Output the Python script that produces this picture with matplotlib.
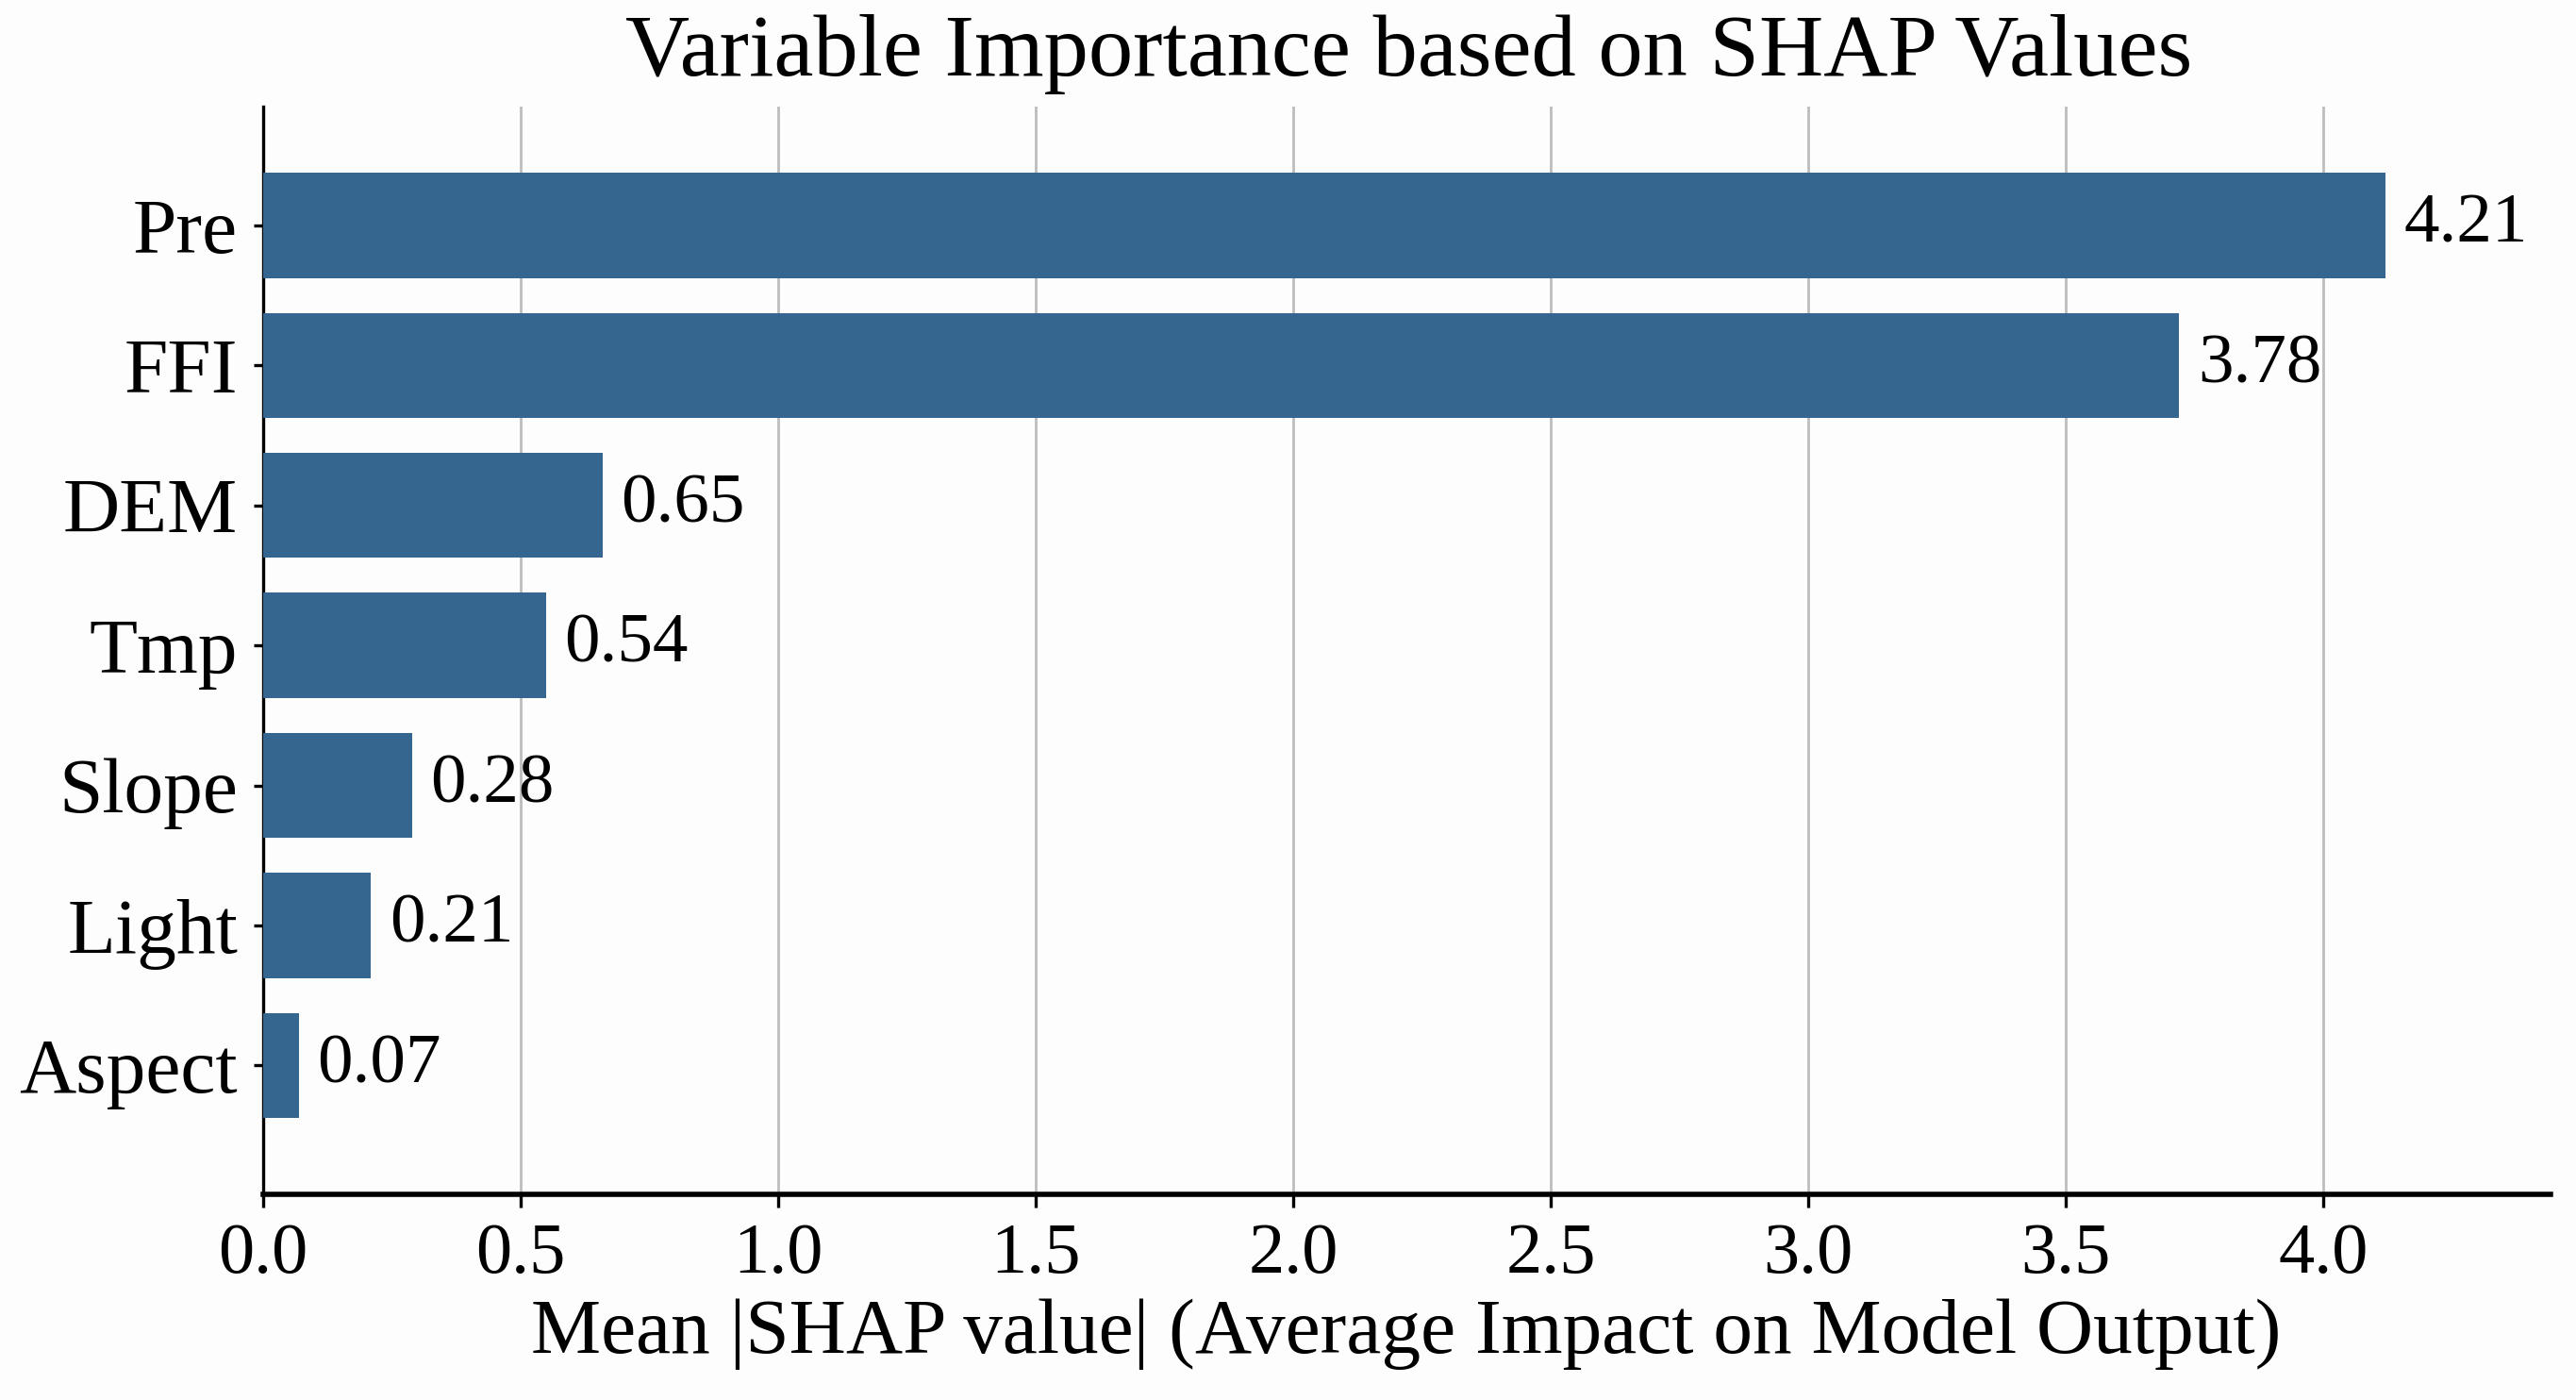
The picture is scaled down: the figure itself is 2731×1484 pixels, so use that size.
import matplotlib.pyplot as plt

# features, top to bottom as shown
features = ["Pre", "FFI", "DEM", "Tmp", "Slope", "Light", "Aspect"]
bar_values = [4.12, 3.72, 0.66, 0.55, 0.29, 0.21, 0.07]   # lengths
value_labels = ["4.21", "3.78", "0.65", "0.54", "0.28", "0.21", "0.07"]
xticks = [0.0, 0.5, 1.0, 1.5, 2.0, 2.5, 3.0, 3.5, 4.0]

plt.rcParams['font.family'] = ['Liberation Serif', 'DejaVu Serif']

fig = plt.figure(figsize=(13.655, 7.42), dpi=200)
fig.patch.set_facecolor("#fdfdfd")
ax = fig.add_axes([0.102, 0.147, 0.888, 0.777])
ax.set_facecolor("#fdfdfd")

# bottom bar goes at y=0
ypos = list(range(len(features)))[::-1]
ax.barh(ypos, bar_values, height=0.75, color="#34668f", zorder=3)

for y, v, lab in zip(ypos, bar_values, value_labels):
    ax.annotate(lab, (v, y), xytext=(7, 0), textcoords="offset points",
                ha="left", va="center", fontsize=27)

ax.set_yticks(ypos)
ax.set_yticklabels(features, fontsize=30)
ax.set_xticks(xticks)
ax.set_xticklabels([f"{t:.1f}" for t in xticks], fontsize=27.5)
ax.set_xlim(0, 4.44)
ax.set_ylim(-0.92, 6.85)

ax.grid(axis="x", color="#bdbdbd", linewidth=1.0, zorder=0)
ax.spines["top"].set_visible(False)
ax.spines["right"].set_visible(False)
ax.spines["left"].set_linewidth(1.2)
ax.spines["bottom"].set_linewidth(2.0)
ax.tick_params(axis="x", length=5, width=1.2, pad=6)
ax.tick_params(axis="y", length=3.5, width=1.2, pad=6)

ax.set_xlabel("Mean |SHAP value| (Average Impact on Model Output)", fontsize=30, labelpad=4)
fig.suptitle("Variable Importance based on SHAP Values", fontsize=34, y=0.99, x=0.547)

fig.savefig("out.png", dpi=200, facecolor=fig.get_facecolor())
